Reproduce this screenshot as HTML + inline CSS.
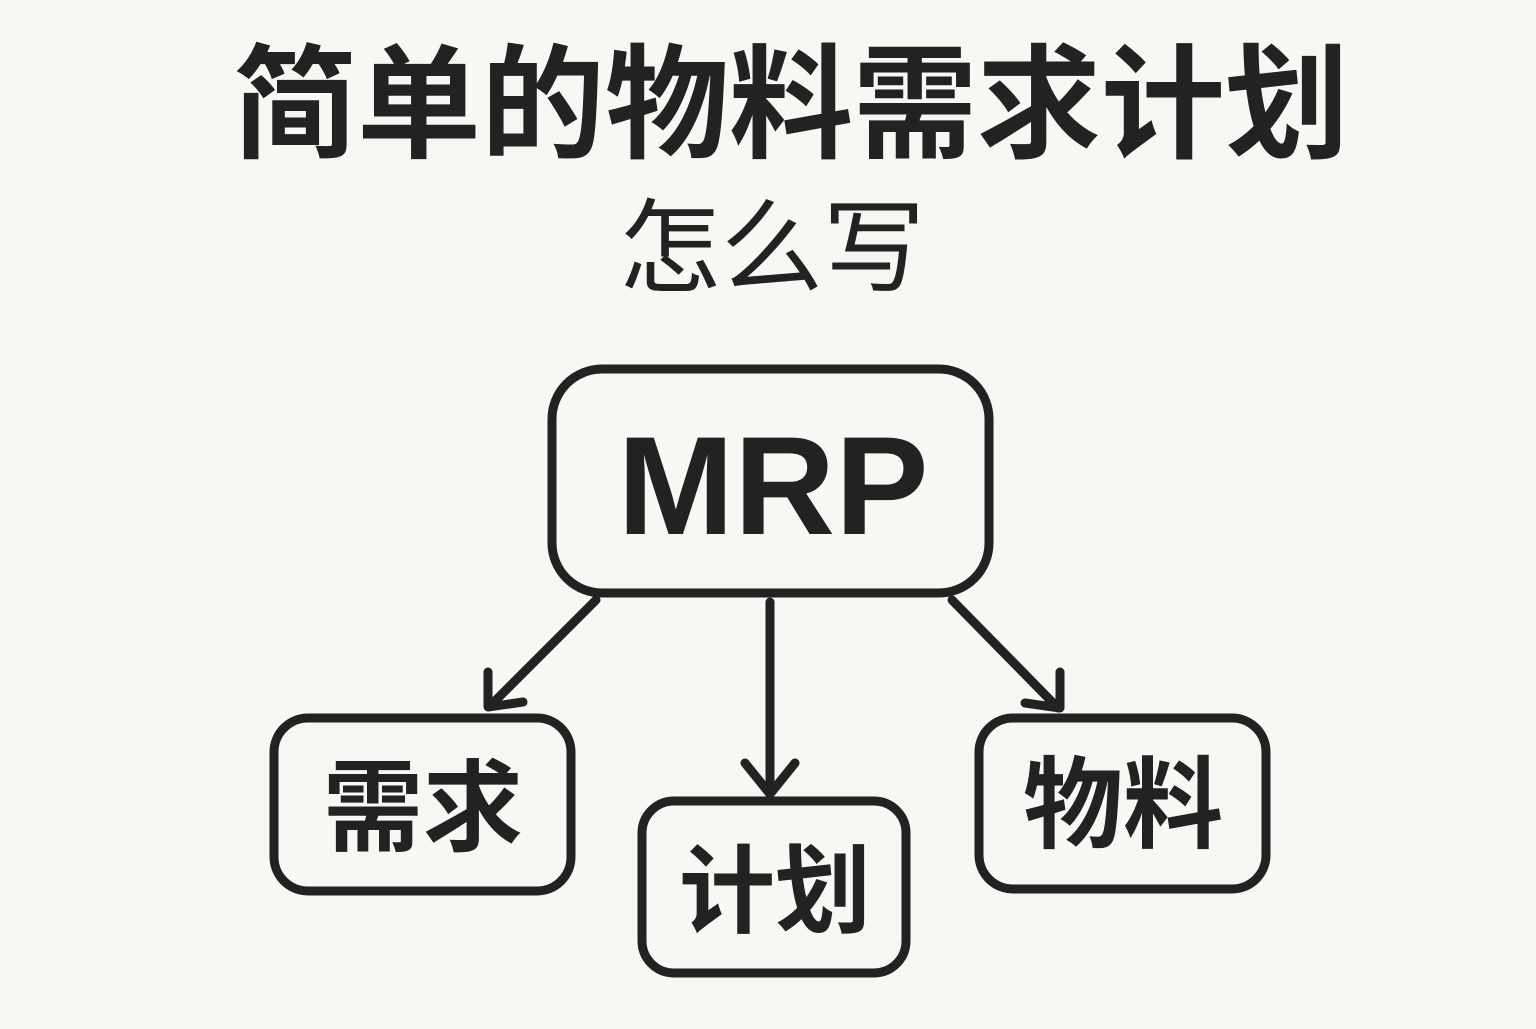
<!DOCTYPE html>
<html><head><meta charset="utf-8"><style>
html,body{margin:0;padding:0;background:#f7f7f3;}
body{width:1536px;height:1024px;overflow:hidden;}
</style></head><body>
<svg width="1536" height="1024" viewBox="0 0 1536 1024" xmlns="http://www.w3.org/2000/svg">
<rect width="1536" height="1024" fill="#f7f7f3"/>
<g font-family="'Liberation Sans','Noto Sans CJK SC',sans-serif" fill="#222" text-anchor="middle">
<text x="791" y="148" font-size="124" font-weight="bold">简单的物料需求计划</text>
<text x="772" y="284" font-size="102">怎么写</text>
<text x="773" y="534" font-size="140" font-weight="bold">MRP</text>
<text x="423" y="843" font-size="100" font-weight="bold">需求</text>
<text x="775" y="925" font-size="96" font-weight="bold">计划</text>
<text x="1123" y="840" font-size="100" font-weight="bold">物料</text>
</g>
<g fill="none" stroke="#222" stroke-width="9" stroke-linecap="round" stroke-linejoin="round">
<rect x="552" y="369" width="437" height="224" rx="50"/>
<rect x="274" y="718" width="297" height="173" rx="34"/>
<rect x="642" y="801" width="264" height="172" rx="32"/>
<rect x="979" y="718" width="287" height="171" rx="34"/>
<line x1="596" y1="600" x2="490" y2="706"/>
<polyline points="488,672 488,707 523,702"/>
<line x1="770" y1="602" x2="770" y2="793"/>
<polyline points="745,763 770,794 795,763"/>
<line x1="952" y1="600" x2="1058" y2="708"/>
<polyline points="1060,672 1060,708 1025,703"/>
</g>
</svg>
</body></html>
